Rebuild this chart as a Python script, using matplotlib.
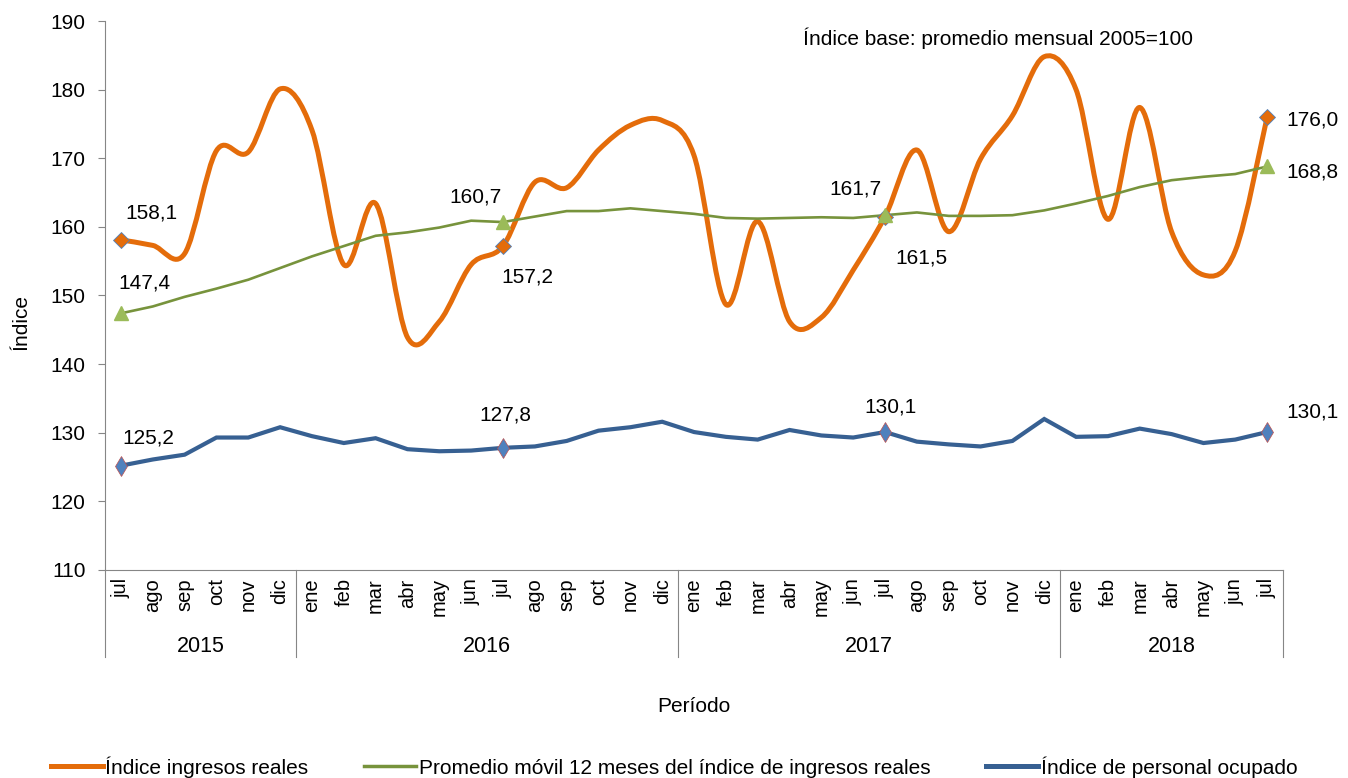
import numpy as np
import matplotlib.pyplot as plt
from matplotlib.path import Path
from matplotlib.patches import PathPatch
from matplotlib.lines import Line2D
import matplotlib.transforms as mtransforms

plt.rcParams['font.family'] = ['Liberation Sans', 'DejaVu Sans']

# Data
months = ["jul", "ago", "sep", "oct", "nov", "dic",
          "ene", "feb", "mar", "abr", "may", "jun", "jul", "ago", "sep", "oct", "nov", "dic",
          "ene", "feb", "mar", "abr", "may", "jun", "jul", "ago", "sep", "oct", "nov", "dic",
          "ene", "feb", "mar", "abr", "may", "jun", "jul"]
years = ["2015", "2016", "2017", "2018"]
year_counts = [6, 12, 12, 7]

ingresos = [158.1, 157.3, 156.1, 171.1, 170.9, 180.1,
            174.1, 154.5, 163.4, 143.9, 146.2, 154.5, 157.2, 166.5, 165.7, 171.2, 174.8, 175.5,
            170.4, 148.7, 160.8, 146.2, 146.8, 153.7, 161.5, 171.2, 159.3, 169.9, 176.2, 184.8,
            180.0, 161.1, 177.4, 159.3, 153.0, 156.5, 176.0]
promedio = [147.4, 148.4, 149.8, 151.0, 152.3, 154.0,
            155.7, 157.2, 158.7, 159.2, 159.9, 160.9, 160.7, 161.5, 162.3, 162.3, 162.7, 162.3,
            161.9, 161.3, 161.2, 161.3, 161.4, 161.3, 161.7, 162.1, 161.6, 161.6, 161.7, 162.4,
            163.4, 164.5, 165.8, 166.8, 167.3, 167.7, 168.8]
personal = [125.2, 126.1, 126.8, 129.3, 129.3, 130.8,
            129.5, 128.5, 129.2, 127.6, 127.3, 127.4, 127.8, 128.0, 128.8, 130.3, 130.8, 131.6,
            130.1, 129.4, 129.0, 130.4, 129.6, 129.3, 130.1, 128.7, 128.3, 128.0, 128.8, 132.0,
            129.4, 129.5, 130.6, 129.8, 128.5, 129.0, 130.1]

marked = [0, 12, 24, 36]

c_orange = "#E46C0A"
c_green = "#77933C"
c_green_mk = "#9BBB59"
c_blue = "#376092"
c_blue_mk = "#4F81BD"
c_grey = "#868686"

x = np.arange(len(months))

fig = plt.figure(figsize=(13.48, 7.78), dpi=100)
ax = fig.add_axes([0.0779, 0.2674, 0.8739, 0.7056])


def smooth_path(xs, ys):
    # Catmull-Rom style bezier through the points (Excel "smoothed line")
    pts = np.column_stack([xs, ys]).astype(float)
    verts = [pts[0]]
    codes = [Path.MOVETO]
    n = len(pts)
    for i in range(n - 1):
        p0 = pts[max(i - 1, 0)]
        p1 = pts[i]
        p2 = pts[i + 1]
        p3 = pts[min(i + 2, n - 1)]
        c1 = p1 + (p2 - p0) / 6.0
        c2 = p2 - (p3 - p1) / 6.0
        verts += [c1, c2, p2]
        codes += [Path.CURVE4] * 3
    return Path(verts, codes)


ax.add_patch(PathPatch(smooth_path(x, ingresos), fill=False, edgecolor=c_orange,
                       linewidth=3.6, capstyle="round", joinstyle="round", zorder=3))
ax.plot(x, promedio, color=c_green, linewidth=1.9, zorder=4)
ax.plot(x, personal, color=c_blue, linewidth=3.0, zorder=3, solid_joinstyle="miter")

ax.plot(x[marked], np.array(ingresos)[marked], linestyle="none", marker="D", markersize=8,
        markerfacecolor=c_orange, markeredgecolor=c_blue_mk, markeredgewidth=0.6, zorder=5)
ax.plot(x[marked], np.array(promedio)[marked], linestyle="none", marker="^", markersize=10,
        markerfacecolor=c_green_mk, markeredgecolor=c_green_mk, zorder=5)
ax.plot(x[marked], np.array(personal)[marked], linestyle="none", marker="d", markersize=10,
        markerfacecolor=c_blue_mk, markeredgecolor="#C0504D", markeredgewidth=0.5, zorder=5)

ax.set_xlim(-0.5, len(months) - 0.5)
ax.set_ylim(110, 190)
ax.set_yticks(np.arange(110, 191, 10))
ax.tick_params(axis="y", labelsize=15, length=5, color=c_grey, pad=9)
ax.set_xticks(x)
ax.set_xticklabels(months, rotation=90, fontsize=14.5)
ax.tick_params(axis="x", length=0, pad=6)
for s in ["top", "right"]:
    ax.spines[s].set_visible(False)
for s in ["left", "bottom"]:
    ax.spines[s].set_color(c_grey)

# year groups below the month labels
trans = mtransforms.blended_transform_factory(ax.transData, ax.transAxes)
bounds = np.concatenate([[0], np.cumsum(year_counts)]) - 0.5
for b in bounds:
    ax.plot([b, b], [0, -0.159], transform=trans, color=c_grey, linewidth=0.8, clip_on=False)
for yr, a, b in zip(years, bounds[:-1], bounds[1:]):
    ax.text((a + b) / 2, -0.14, yr, transform=trans, ha="center", va="center", fontsize=15.5)

ax.text(0.5, -0.249, "Período", transform=ax.transAxes, ha="center", va="center", fontsize=15)
ax.set_ylabel("Índice", fontsize=15)
ax.yaxis.set_label_coords(-0.063, 0.452)

fig.text(998 / 1348, 1 - 38 / 778, "Índice base: promedio mensual 2005=100",
         ha="center", va="center", fontsize=15)

# data labels (offsets in pixels -> points)
def lab(xi, yi, text, dx, dy, ha="center"):
    ax.annotate(text, (xi, yi), xytext=(dx * 0.72, dy * 0.72), textcoords="offset points",
                ha=ha, va="center", fontsize=15)

lab(0, ingresos[0], "158,1", 31, 27)
lab(0, promedio[0], "147,4", 24, 30)
lab(0, personal[0], "125,2", 27, 28)
lab(12, promedio[12], "160,7", -27, 25)
lab(12, ingresos[12], "157,2", 24, -31)
lab(12, personal[12], "127,8", 2, 33)
lab(24, promedio[24], "161,7", -30, 26)
lab(24, ingresos[24], "161,5", 36, -41)
lab(24, personal[24], "130,1", 5, 25)
lab(36, ingresos[36], "176,0", 19, -3, ha="left")
lab(36, promedio[36], "168,8", 19, -6, ha="left")
lab(36, personal[36], "130,1", 19, 20, ha="left")

handles = [Line2D([], [], color=c_orange, linewidth=3.6),
           Line2D([], [], color=c_green, linewidth=2.5),
           Line2D([], [], color=c_blue, linewidth=3.6)]
labels = ["Índice ingresos reales",
          "Promedio móvil 12 meses del índice de ingresos reales",
          "Índice de personal ocupado"]
fig.legend(handles, labels, loc="center", bbox_to_anchor=(0.5, 1 - 767 / 778), ncol=3,
           frameon=False, fontsize=15, handlelength=2.5, handletextpad=0.1, columnspacing=2.7)

fig.savefig("out.png", dpi=100)
